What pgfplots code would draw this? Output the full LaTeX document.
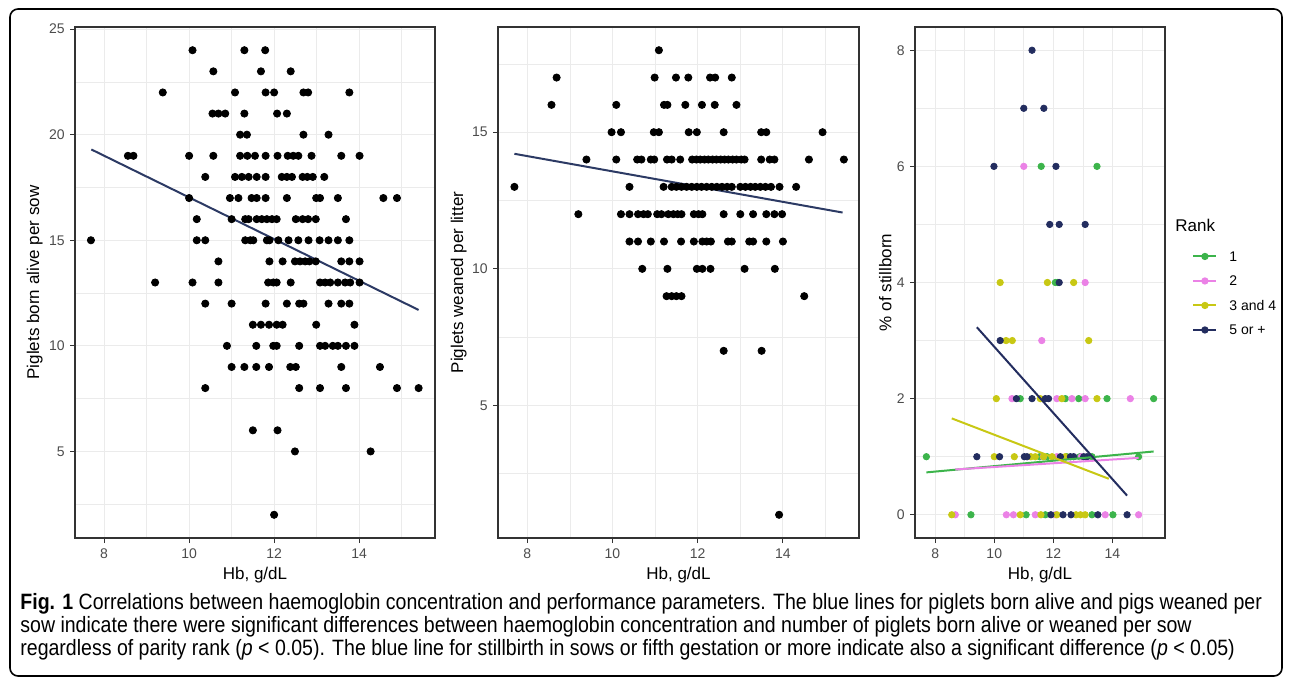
\documentclass[border=0pt]{standalone}
\usepackage{fontspec}
\setmainfont{Liberation Sans}
\newfontfamily\capfont[FakeStretch=0.88]{Liberation Sans}
\usepackage{pgfplots}
\pgfplotsset{compat=1.18}

\definecolor{grey20}{gray}{0.2}
\definecolor{grey30}{gray}{0.3}
\definecolor{grey92}{gray}{0.92}
\definecolor{fitblue}{RGB}{44,58,100}
\definecolor{rk1}{RGB}{60,180,75}
\definecolor{rk2}{RGB}{235,130,230}
\definecolor{rk3}{RGB}{200,200,20}
\definecolor{rk5}{RGB}{35,45,95}

\pgfplotsset{
  gg/.style={
    scale only axis, anchor=south west, height=255.5pt,
    xmin=7.315, xmax=15.785, xtick={8,10,12,14}, minor xtick={9,11,13,15},
    axis line style={grey20, line width=0.6pt},
    grid=both, major grid style={grey92, line width=0.5pt},
    minor grid style={grey92, line width=0.3pt},
    tick pos=left, tick align=outside, major tick length=2.5pt, minor tick length=0pt,
    tick style={grey20, line width=0.5pt},
    ticklabel style={font=\fontsize{7}{8}\selectfont, text=grey30, inner sep=0pt},
    xticklabel style={yshift=-2.5pt}, yticklabel style={xshift=-2.5pt},
    /pgf/number format/assume math mode=true,
    xlabel={Hb, g/dL},
    label style={font=\fontsize{8.5}{10}\selectfont, inner sep=0pt},
    xlabel style={at={([yshift=-14.5pt]axis description cs:0.5,0)}, anchor=north},
    pts/.style={only marks, mark=*, mark size=1.8pt, black},
    fit/.style={no marks, fitblue, line width=1pt},
  }
}

\begin{document}
\begin{tikzpicture}
\useasboundingbox (0,0) rectangle (645pt,340.5pt);
\draw[line width=0.8pt, rounded corners=4pt] (5pt,2.5pt) rectangle (641pt,336pt);

% panel 1: piglets born alive
\begin{axis}[gg, at={(37.5pt,71.5pt)}, width=180pt,
  ymin=0.9, ymax=25.1, ytick={5,10,15,20,25}, minor ytick={2.5,7.5,12.5,17.5,22.5},
  ylabel={Piglets born alive per sow},
  ylabel style={at={([xshift=-16pt]axis description cs:0,0.5)}, anchor=south, rotate=0}]
\addplot[pts] table {
x y
10.08 24
11.30 24
11.79 24
10.57 23
11.69 23
12.39 23
9.38 22
11.08 22
11.80 22
12.00 22
12.69 22
12.80 22
13.77 22
10.55 21
10.69 21
10.85 21
11.30 21
12.07 21
12.30 21
11.20 20
11.36 20
12.69 20
13.28 20
8.56 19
8.69 19
10.00 19
10.57 19
11.20 19
11.37 19
11.55 19
11.80 19
12.08 19
12.32 19
12.45 19
12.57 19
12.88 19
13.58 19
14.01 19
10.38 18
11.08 18
11.24 18
11.40 18
11.59 18
11.80 18
12.18 18
12.30 18
12.42 18
12.67 18
12.78 18
12.91 18
13.18 18
10.00 17
10.96 17
11.16 17
11.47 17
11.59 17
11.80 17
12.30 17
12.99 17
13.08 17
13.50 17
14.57 17
14.89 17
10.18 16
11.00 16
11.32 16
11.40 16
11.59 16
11.71 16
11.83 16
11.95 16
12.06 16
12.51 16
12.67 16
12.80 16
12.98 16
13.69 16
7.69 15
10.18 15
10.38 15
11.32 15
11.44 15
11.51 15
11.83 15
11.89 15
12.10 15
12.34 15
12.57 15
12.81 15
13.07 15
13.28 15
13.50 15
13.77 15
10.69 14
11.89 14
12.20 14
12.49 14
12.61 14
12.73 14
12.83 14
12.98 14
13.58 14
13.77 14
14.01 14
9.20 13
10.08 13
10.69 13
11.86 13
11.98 13
12.06 13
12.39 13
13.08 13
13.20 13
13.32 13
13.50 13
13.67 13
13.79 13
14.01 13
10.38 12
11.00 12
11.80 12
12.30 12
12.59 12
12.69 12
13.28 12
13.58 12
13.77 12
11.50 11
11.69 11
11.88 11
12.06 11
12.20 11
12.99 11
13.89 11
10.89 10
11.58 10
11.98 10
12.06 10
12.59 10
13.08 10
13.20 10
13.38 10
13.50 10
13.69 10
13.89 10
11.00 9
11.30 9
11.58 9
11.88 9
12.38 9
12.51 9
13.58 9
14.49 9
10.38 8
12.59 8
13.08 8
13.69 8
14.89 8
15.40 8
11.50 6
12.08 6
12.49 5
14.27 5
12.00 2
};
\addplot[fit] coordinates {(7.7,19.3) (15.4,11.7)};
\end{axis}

% panel 2: piglets weaned
\begin{axis}[gg, at={(249pt,71.5pt)}, width=180.5pt,
  ymin=0.15, ymax=18.85, ytick={5,10,15}, minor ytick={2.5,7.5,12.5,17.5},
  ylabel={Piglets weaned per litter},
  ylabel style={at={([xshift=-15.5pt]axis description cs:0,0.5)}, anchor=south, rotate=0}]
\addplot[pts] table {
x y
11.09 18
8.69 17
10.99 17
11.49 17
11.78 17
12.29 17
12.41 17
12.80 17
8.57 16
10.09 16
11.21 16
11.29 16
11.71 16
12.10 16
12.40 16
12.91 16
9.98 15
10.20 15
10.97 15
11.09 15
11.79 15
11.98 15
12.61 15
13.49 15
13.61 15
14.93 15
9.39 14
10.09 14
10.58 14
10.68 14
10.90 14
10.98 14
11.28 14
11.39 14
11.59 14
11.87 14
11.97 14
12.06 14
12.16 14
12.25 14
12.35 14
12.44 14
12.54 14
12.63 14
12.72 14
12.82 14
12.91 14
13.02 14
13.10 14
13.49 14
13.69 14
13.80 14
14.61 14
15.43 14
7.70 13
10.40 13
11.20 13
11.39 13
11.50 13
11.62 13
11.74 13
11.86 13
11.98 13
12.09 13
12.21 13
12.33 13
12.45 13
12.57 13
12.69 13
12.80 13
13.00 13
13.12 13
13.24 13
13.35 13
13.47 13
13.59 13
13.72 13
13.92 13
14.31 13
9.20 12
10.20 12
10.40 12
10.60 12
10.73 12
10.83 12
11.05 12
11.15 12
11.31 12
11.43 12
11.53 12
11.62 12
11.91 12
12.02 12
12.11 12
12.61 12
13.00 12
13.30 12
13.61 12
13.80 12
13.98 12
10.40 11
10.60 11
10.90 11
11.21 11
11.61 11
11.91 11
12.11 11
12.21 11
12.31 11
12.71 11
12.80 11
13.21 11
13.30 11
13.61 11
14.00 11
10.70 10
11.29 10
11.98 10
12.11 10
12.30 10
13.10 10
13.81 10
11.27 9
11.39 9
11.50 9
11.62 9
14.50 9
12.61 7
13.50 7
13.91 1
};
\addplot[fit] coordinates {(7.7,14.21) (15.4,12.06)};
\end{axis}

% panel 3: stillborn by parity rank
\begin{axis}[gg, at={(457.5pt,71.5pt)}, width=125pt, clip mode=individual,
  ymin=-0.4, ymax=8.4, ytick={0,2,4,6,8}, minor ytick={1,3,5,7},
  ylabel={\% of stillborn},
  ylabel style={at={([xshift=-11.5pt]axis description cs:0,0.5)}, anchor=south, rotate=0},
  legend style={at={([xshift=10.5pt]axis description cs:1,0.5694)}, anchor=north west,
    draw=none, fill=none, font=\fontsize{7}{8}\selectfont, row sep=7.25pt,
    nodes={inner sep=0pt, text height=5pt, text depth=0pt}},
  legend cell align=left,
  legend image code/.code={\draw[mark repeat=2,mark phase=2,#1] plot coordinates {(0pt,0pt) (5.75pt,0pt) (11.5pt,0pt)};}]
\addlegendimage{rk1, line width=1pt, mark=*, mark size=1.3pt}
\addlegendentry{\hspace{6pt}1}
\addlegendimage{rk2, line width=1pt, mark=*, mark size=1.3pt}
\addlegendentry{\hspace{6pt}2}
\addlegendimage{rk3, line width=1pt, mark=*, mark size=1.3pt}
\addlegendentry{\hspace{6pt}3 and 4}
\addlegendimage{rk5, line width=1pt, mark=*, mark size=1.3pt}
\addlegendentry{\hspace{6pt}5 or +}
\addplot[only marks, mark=*, mark size=1.6pt, rk1, forget plot] table {
x y
11.59 6
13.48 6
12.07 4
12.15 4
10.88 2
12.41 2
12.86 2
13.82 2
15.40 2
7.70 1
11.54 1
11.79 1
12.45 1
12.90 1
13.31 1
14.89 1
9.21 0
11.08 0
11.73 0
13.31 0
14.02 0
};
\addplot[only marks, mark=*, mark size=1.6pt, rk2, forget plot] table {
x y
11.00 6
13.08 4
11.61 3
10.60 2
12.12 2
12.63 2
13.08 2
14.61 2
11.66 1
12.12 1
12.95 1
8.68 0
10.41 0
10.65 0
11.39 0
12.07 0
13.76 0
14.89 0
};
\addplot[only marks, mark=*, mark size=1.6pt, rk3, forget plot] table {
x y
10.20 4
11.80 4
12.69 4
10.40 3
10.61 3
13.20 3
10.07 2
11.56 2
12.29 2
13.48 2
10.00 1
10.68 1
11.24 1
11.39 1
11.67 1
11.96 1
12.41 1
8.56 0
10.88 0
11.58 0
12.12 0
12.77 0
12.92 0
13.08 0
};
\addplot[only marks, mark=*, mark size=1.6pt, rk5, forget plot] table {
x y
11.28 8
11.00 7
11.68 7
9.99 6
12.09 6
11.88 5
12.20 5
13.08 5
12.20 4
10.20 3
10.75 2
11.28 2
11.73 2
11.84 2
9.41 1
10.18 1
11.02 1
11.11 1
12.24 1
12.58 1
12.69 1
13.03 1
13.14 1
11.92 0
12.33 0
12.60 0
13.51 0
14.50 0
};
\addplot[no marks, rk1, line width=1pt, forget plot] coordinates {(7.7,0.73) (15.4,1.09)};
\addplot[no marks, rk2, line width=1pt, forget plot] coordinates {(8.68,0.78) (14.89,0.98)};
\addplot[no marks, rk3, line width=1pt, forget plot] coordinates {(8.56,1.66) (13.88,0.62)};
\addplot[no marks, rk5, line width=1pt, forget plot] coordinates {(9.41,3.23) (14.50,0.33)};
\node[anchor=west, inner sep=0pt, font=\fontsize{8.5}{10}\selectfont] at ([xshift=5pt]axis description cs:1,0.6125) {Rank};
\end{axis}

\capfont\fontsize{11.1}{13}\selectfont
\node[anchor=base west, inner sep=0pt] at (10pt,36pt) {{\bfseries Fig. 1} Correlations between haemoglobin concentration and performance parameters. The blue lines for piglets born alive and pigs weaned per};
\node[anchor=base west, inner sep=0pt] at (10pt,24.5pt) {sow indicate there were significant differences between haemoglobin concentration and number of piglets born alive or weaned per sow};
\node[anchor=base west, inner sep=0pt] at (10pt,13pt) {regardless of parity rank (\textit{p} < 0.05). The blue line for stillbirth in sows or fifth gestation or more indicate also a significant difference (\textit{p} < 0.05)};
\end{tikzpicture}
\end{document}
